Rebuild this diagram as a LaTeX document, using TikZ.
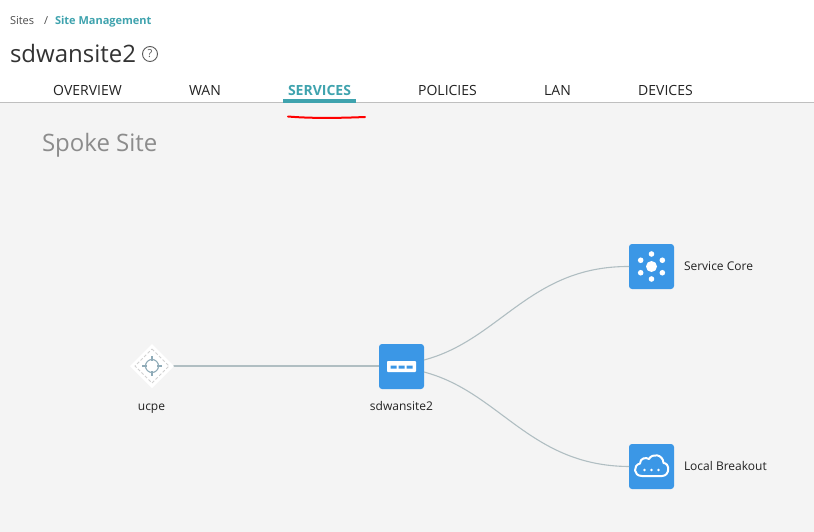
\documentclass[tikz,border=0pt]{standalone}
\usepackage{fontspec}
\setmainfont{Open Sans}
\definecolor{teal1}{HTML}{3FA3AE}
\definecolor{blue1}{HTML}{3B97E6}
\definecolor{page}{HTML}{F4F4F4}
\definecolor{conn}{HTML}{B0BEC2}
\definecolor{ink}{HTML}{222222}
\definecolor{cross}{HTML}{8FABB8}
\tikzset{
  every node/.style={inner sep=0pt,outer sep=0pt,text=ink},
  iconbox/.style={draw=none,fill=blue1,rounded corners=3pt,minimum width=45pt,minimum height=45pt},
  conn/.style={draw=conn,line width=1.1pt},
  lbl/.style={font=\fontsize{12}{14}\selectfont},
  tab/.style={font=\fontsize{14}{17}\selectfont},
  glyph/.style={fill=white,draw=none},
  glyphline/.style={draw=white,line width=2pt},
}
\begin{document}
\begin{tikzpicture}[x=1pt,y=-1pt]
\useasboundingbox (0,0) rectangle (814,532);
\fill[white] (0,0) rectangle (814,532);
\fill[page] (0,103) rectangle (814,532);
\draw[color=black!25,line width=1pt] (0,102.5) -- (814,102.5);
% header
\node[anchor=base west,font=\fontsize{11}{12}\selectfont,text=black!70] (crumb1) at (10,25) {Sites};
\node[anchor=base west,font=\fontsize{11}{12}\selectfont,text=black!70] (crumbsep) at (44,25) {/};
\node[anchor=base west,font=\fontsize{11}{12}\selectfont\bfseries,text=teal1] (crumb2) at (55,25) {Site Management};
\node[anchor=base west,font=\fontsize{24}{28}\selectfont,text=black!80] (title) at (10,63) {sdwansite2};
\node[circle,draw=black!65,line width=0.9pt,minimum size=15pt,font=\fontsize{11}{11}\selectfont,text=black!65] (help) at (150,54) {?};
% tabs
\node[tab,anchor=base] (t1) at (87.5,96) {OVERVIEW};
\node[tab,anchor=base] (t2) at (205,96) {WAN};
\node[tab,anchor=base,font=\fontsize{14}{17}\selectfont\bfseries,text=teal1] (t3) at (319.5,96) {SERVICES};
\node[tab,anchor=base] (t4) at (447.5,96) {POLICIES};
\node[tab,anchor=base] (t5) at (557.5,96) {LAN};
\node[tab,anchor=base] (t6) at (665.5,96) {DEVICES};
\fill[teal1] (283,99) rectangle (356,103);
\draw[red,line width=2pt,line cap=round] (288,116.5) .. controls (305,118) and (330,118.5) .. (365,117);
\node[anchor=base west,font=\fontsize{24}{28}\selectfont,text=black!45] (spoke) at (42,152) {Spoke Site};
% nodes
\node[shape=rectangle,minimum size=0pt] (ucpe) at (152,366) {};
\node[iconbox] (sd) at (401.5,366.5) {};
\node[iconbox] (core) at (651.5,266.5) {};
\node[iconbox] (brk) at (651.5,466.5) {};
% connectors
\coordinate (ucpeR) at (173,366);
\draw[conn] (ucpeR) -- (sd.west |- ucpeR);
\draw[conn] (sd.east |- 0,360) .. controls (500,340) and (530,266) .. (core.west);
\draw[conn] (sd.east |- 0,372) .. controls (500,392) and (530,466) .. (brk.west);
% ucpe icon
\fill[white] (152,344) -- (174,366) -- (152,388) -- (130,366) -- cycle;
\draw[color=black!18,line width=1pt,dash pattern=on 3pt off 2pt] (152,349) -- (169,366) -- (152,383) -- (135,366) -- cycle;
\draw[color=cross,line width=1.1pt] (152,366) circle (6.5pt);
\draw[color=cross,line width=1.1pt] (152,356) -- (152,361) (152,371) -- (152,376) (142,366) -- (147,366) (157,366) -- (162,366);
% sdwan icon
\fill[glyph,rounded corners=0.8pt] (387,361) rectangle (416,372);
\fill[blue1] (390.5,365.5) rectangle (396.5,368.5) (398.5,365.5) rectangle (404.5,368.5) (406.5,365.5) rectangle (412.5,368.5);
% core icon
\fill[glyph] (651.5,266.5) circle (5.5pt);
\foreach \a in {30,90,150,210,270,330}{\fill[glyph] (651.5,266.5) ++(\a:12.5pt) circle (2.8pt);}
% cloud icon
\draw[glyphline,line join=round] (642,476) .. controls (633,476) and (633,465) .. (640,463.5)
  .. controls (640,458) and (646,457) .. (649,459)
  .. controls (652,453) and (663,454) .. (663.5,463)
  .. controls (670,463) and (670,476) .. (662,476) -- cycle;
\foreach \x in {644.5,651.5,658.5}{\fill[glyph] (\x,470) circle (1.4pt);}
% labels
\node[lbl,anchor=base] (ucpeL) at (151.5,410) {ucpe};
\node[lbl,anchor=base] (sdL) at (401.5,410) {sdwansite2};
\node[lbl,anchor=base west] (coreL) at (684,270) {Service Core};
\node[lbl,anchor=base west] (brkL) at (684,470) {Local Breakout};
\end{tikzpicture}
\end{document}
